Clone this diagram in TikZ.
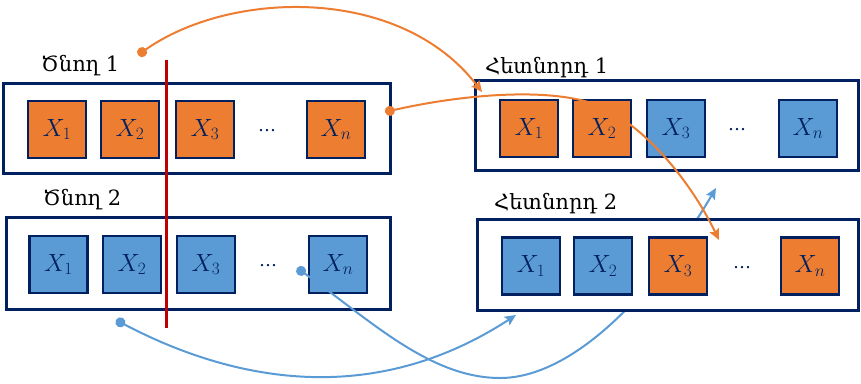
\documentclass[tikz,border=0pt]{standalone}
\usepackage{fontspec}
\setmainfont{DejaVu Serif}
\usetikzlibrary{arrows.meta}
\definecolor{navy}{HTML}{002060}
\definecolor{gaorange}{HTML}{ED7D31}
\definecolor{gablue}{HTML}{5B9BD5}
\definecolor{cutred}{HTML}{C00000}
\tikzset{
  chrom/.style={draw=navy, line width=3pt, fill=white, inner sep=0pt},
  gene/.style={draw=navy, line width=2.5pt, minimum width=58pt, minimum height=57pt,
    inner sep=0pt, text=navy, font=\fontsize{24}{24}\selectfont},
  og/.style={gene, fill=gaorange},
  bg/.style={gene, fill=gablue},
  gdots/.style={text=navy, inner sep=0pt, font=\fontsize{18}{18}\selectfont},
  title/.style={anchor=west, inner sep=0pt, font=\fontsize{21}{21}\selectfont},
  olink/.style={draw=gaorange, line width=2pt,
    {Circle[length=10pt]}-{Stealth[length=11pt,width=10pt,inset=2pt]}},
  blink/.style={draw=gablue, line width=2pt,
    {Circle[length=10pt]}-{Stealth[length=11pt,width=10pt,inset=2pt]}},
}
\begin{document}
\begin{tikzpicture}[x=1pt,y=-1pt]
\useasboundingbox (0,0) rectangle (861,383);

% parent 1
\node[title] (t1) at (41,66) {Ծնող 1};
\node[chrom, minimum width=387pt, minimum height=90pt] (p1) at (196.5,128) {};
\node[og] (p1a) at (57,129.5) {$X_1$};
\node[og] (p1b) at (130,129.5) {$X_2$};
\node[og] (p1c) at (205,129.5) {$X_3$};
\node[gdots] (p1d) at (267,131) {…};
\node[og] (p1n) at (336,129.5) {$X_n$};

% parent 2
\node[title] (t2) at (43,200) {Ծնող 2};
\node[chrom, minimum width=384pt, minimum height=92pt] (p2) at (198,263) {};
\node[bg] (p2a) at (58.5,264.5) {$X_1$};
\node[bg] (p2b) at (132,264.5) {$X_2$};
\node[bg] (p2c) at (206,264.5) {$X_3$};
\node[gdots] (p2d) at (268,266) {…};
\node[bg] (p2n) at (338,264.5) {$X_n$};

% tail of parent 2 goes to the upper child (passes behind child 2)
\coordinate (s4) at (297,268);
\coordinate (e4) at (716,188);
\draw[blink] (s4) .. controls (370,320) and (430,378) .. (500,378)
  .. controls (570,378) and (650,300) .. (e4);

% child 1
\node[title] (t3) at (485,68) {Հետնորդ 1};
\node[chrom, minimum width=383pt, minimum height=90pt] (c1) at (666.5,125) {};
\node[og] (c1a) at (529,128.5) {$X_1$};
\node[og] (c1b) at (602,128.5) {$X_2$};
\node[bg] (c1c) at (676,128.5) {$X_3$};
\node[gdots] (c1d) at (737,130) {…};
\node[bg] (c1n) at (808,128.5) {$X_n$};

% child 2
\node[title] (t4) at (494,204) {Հետնորդ 2};
\node[chrom, minimum width=381pt, minimum height=91pt] (c2) at (667.5,264.5) {};
\node[bg] (c2a) at (531,266) {$X_1$};
\node[bg] (c2b) at (603,266) {$X_2$};
\node[og] (c2c) at (678,266) {$X_3$};
\node[gdots] (c2d) at (742,268) {…};
\node[og] (c2n) at (810,266) {$X_n$};

% crossover links
\coordinate (s1) at (138,55);
\coordinate (e1) at (482,92);
\draw[olink] (s1) .. controls (230,-10) and (400,-15) .. (e1);

\coordinate (s2) at (385,112);
\coordinate (e2) at (719,240);
\draw[olink] (s2) .. controls (460,95) and (540,88) .. (588,102)
  .. controls (640,118) and (690,180) .. (e2);

\coordinate (s3) at (116,320);
\coordinate (e3) at (516,315);
\draw[blink] (s3) .. controls (230,380) and (370,410) .. (e3);

% crossover point
\coordinate (r1) at (166,60);
\coordinate (r2) at (166,328);
\draw[cutred, line width=3pt] (r1) -- (r2);
\end{tikzpicture}
\end{document}
